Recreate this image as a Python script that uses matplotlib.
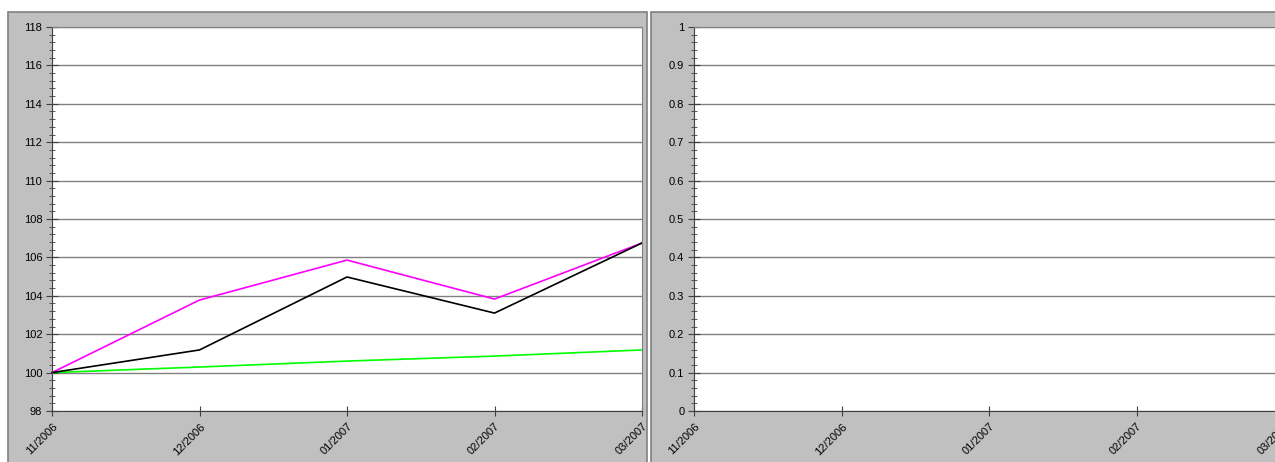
import matplotlib.pyplot as plt
from matplotlib.patches import Rectangle
from matplotlib.ticker import MultipleLocator

# --- data ---
months = ["11/2006", "12/2006", "01/2007", "02/2007", "03/2007"]
magenta_vals = [100.0, 103.78, 105.86, 103.83, 106.75]
black_vals = [100.0, 101.18, 104.98, 103.10, 106.75]
green_vals = [100.0, 100.29, 100.60, 100.86, 101.18]

left_yticks = [98, 100, 102, 104, 106, 108, 110, 112, 114, 116, 118]
right_yticks = [0, 0.1, 0.2, 0.3, 0.4, 0.5, 0.6, 0.7, 0.8, 0.9, 1]
right_ylabels = ["0", "0.1", "0.2", "0.3", "0.4", "0.5", "0.6", "0.7", "0.8", "0.9", "1"]

plt.rcParams['font.family'] = ['Liberation Sans', 'DejaVu Sans']

W, H = 1275, 462
fig = plt.figure(figsize=(W / 100, H / 100), dpi=100, facecolor='white')

# grey chart areas (Excel style), kept behind the axes
for x0, x1 in [(8, 647), (651, 1290)]:
    fig.patches.append(Rectangle((x0 / W, -0.05), (x1 - x0) / W, (H - 12) / H + 0.05,
                                 transform=fig.transFigure, facecolor='#c0c0c0',
                                 edgecolor='#808080', linewidth=1.2, zorder=-5))


def style_axes(ax):
    ax.set_facecolor('white')
    for s in ['top', 'right']:
        ax.spines[s].set_color('#808080')
    for s in ['left', 'bottom']:
        ax.spines[s].set_color('#404040')
    ax.set_xlim(0, len(months) - 1)
    ax.set_xticks(range(len(months)))
    ax.set_xticklabels(months, rotation=45, ha='right', va='top',
                       rotation_mode='anchor', fontsize=8)
    ax.tick_params(axis='x', direction='inout', length=7, color='#404040', pad=4)
    ax.tick_params(axis='y', which='major', direction='inout', length=8,
                   color='#404040', labelsize=8, pad=3)
    ax.tick_params(axis='y', which='minor', direction='inout', length=5,
                   color='#404040')
    ax.grid(axis='y', which='major', color='#808080', linewidth=1)
    ax.set_axisbelow(True)


axw = 590 / W
axh = 384 / H
axb = (H - 411) / H

ax1 = fig.add_axes([52 / W, axb, axw, axh])
style_axes(ax1)
ax1.set_ylim(98, 118)
ax1.set_yticks(left_yticks)
ax1.yaxis.set_minor_locator(MultipleLocator(0.4))
x = range(len(months))
ax1.plot(x, green_vals, color='#00ff00', linewidth=1.2, clip_on=False)
ax1.plot(x, magenta_vals, color='#ff00ff', linewidth=1.2, clip_on=False)
ax1.plot(x, black_vals, color='black', linewidth=1.2, clip_on=False)

ax2 = fig.add_axes([694 / W, axb, axw, axh])
style_axes(ax2)
ax2.set_ylim(0, 1)
ax2.set_yticks(right_yticks)
ax2.set_yticklabels(right_ylabels)
ax2.yaxis.set_minor_locator(MultipleLocator(0.02))

fig.savefig("out.png", dpi=100, facecolor='white')
